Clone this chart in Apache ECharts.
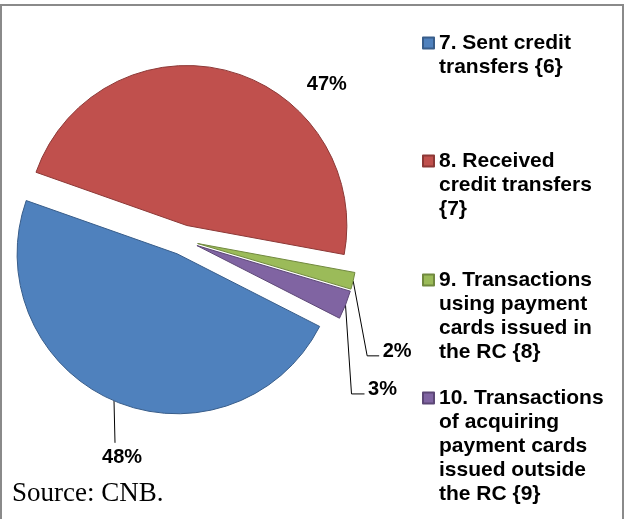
<!doctype html>
<html>
<head>
    <meta charset="utf-8"/>
    <title>Credit transfers and card transactions</title>
    <script src="https://cdn.jsdelivr.net/npm/echarts@6/dist/echarts.min.js"></script>
    <style>
    body {
        margin: 0;
        background-color: #fff;
    }
    #frame {
        position: absolute;
        left: 0;
        top: 4px;
        width: 620px;
        height: 540px;
        border: 2px solid #8a8a8a;
        border-bottom: none;
    }
    #chart {
        position: absolute;
        left: 0;
        top: 0;
        width: 624px;
        height: 519px;
    }
    </style>
</head>
<body>
    <div id="frame"></div>
    <div id="chart"></div>
    <script>
    // 数据
    const categories = [
        '7. Sent credit transfers {6}',
        '8. Received credit transfers {7}',
        '9. Transactions using payment cards issued in the RC {8}',
        '10. Transactions of acquiring payment cards issued outside the RC {9}'
    ];
    const shares = [47.9, 47.5, 1.7, 2.9];
    const sourceNote = 'Source: CNB.';

    // 样式
    const colors = ['#4f81bd', '#c0504d', '#9bbb59', '#8064a2'];
    const borders = ['#385d8a', '#8c3836', '#71893f', '#5c4776'];
    const legendLines = [2, 3, 4, 5];     // 图例换行后的行数
    const legendIconY = [43, 161, 280, 398];
    const lineH = 24;
    const font = 'Liberation Sans, Arial, sans-serif';

    // 百分比标签：对齐到边缘的距离、引导线长度、折线相对起点的偏移
    const labelPlace = [
        {edge: 108, len: 62, bend: [[1, 42]]},
        {edge: 281, len: -14, bend: []},
        {edge: 227, len: 301, bend: [[14, 75], [26, 75]]},
        {edge: 241, len: 229, bend: [[6, 89], [19, 89]]}
    ];

    const chart = echarts.init(document.getElementById('chart'), null, {renderer: 'canvas'});

    const legends = categories.map((name, i) => ({
        data: [name],
        orient: 'vertical',
        left: 422,
        top: legendIconY[i] - (2 * legendLines[i] - 1) * lineH / 2,
        padding: 0,
        itemWidth: 11,
        itemHeight: 11,
        icon: 'rect',
        selectedMode: false,
        // 前置空行，使色块与第一行文字对齐
        formatter: n => '\n'.repeat(legendLines[i] - 1) + n,
        textStyle: {
            fontFamily: font,
            fontSize: 21,
            fontWeight: 'bold',
            color: '#000',
            lineHeight: lineH,
            width: 172,
            overflow: 'break'
        }
    }));

    function placeLabel(params) {
        const pts = params.labelLinePoints;
        if (!pts) {
            return {};
        }
        const p = pts[0];
        const bend = labelPlace[params.dataIndex].bend;
        return {
            labelLinePoints: [p, p].concat(bend.map(b => [p[0] + b[0], p[1] + b[1]]))
        };
    }

    chart.setOption({
        animation: false,
        backgroundColor: 'transparent',
        title: {
            text: sourceNote,
            left: 7,
            top: 475,
            textStyle: {
                fontFamily: 'Liberation Serif, Times New Roman, serif',
                fontSize: 27,
                fontWeight: 'normal',
                color: '#000'
            }
        },
        legend: legends,
        series: [{
            type: 'pie',
            center: [183, 240],
            radius: 160,
            startAngle: 333,
            clockwise: true,
            selectedMode: 'multiple',
            selectedOffset: 15,
            percentPrecision: 0,
            avoidLabelOverlap: false,
            silent: true,
            data: categories.map((name, i) => ({
                name: name,
                value: shares[i],
                selected: true,
                itemStyle: {color: colors[i], borderColor: borders[i], borderWidth: 1},
                label: {alignTo: 'edge', edgeDistance: labelPlace[i].edge},
                labelLine: {length: labelPlace[i].len, length2: 0}
            })),
            label: {
                show: true,
                position: 'outside',
                formatter: '{d}%',
                fontFamily: font,
                fontSize: 20,
                fontWeight: 'bold',
                color: '#000'
            },
            labelLine: {
                show: true,
                lineStyle: {color: '#000', width: 1}
            },
            labelLayout: placeLabel
        }]
    });
    </script>
</body>
</html>
